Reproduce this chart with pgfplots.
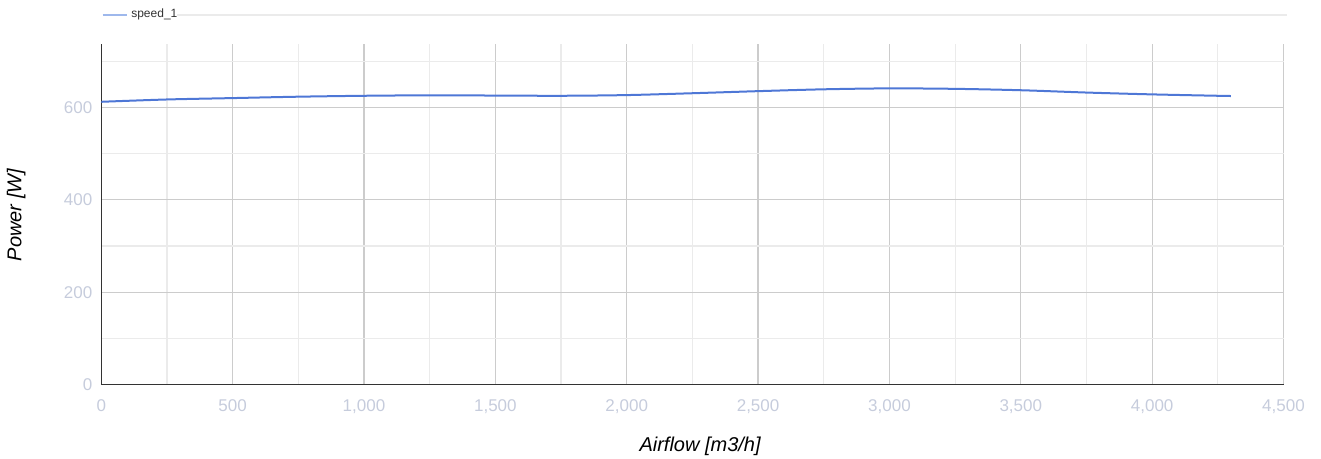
\documentclass[border=0pt]{standalone}
\usepackage{pgfplots}
\pgfplotsset{compat=1.18}
\usepackage{fontspec}
\setmainfont{Liberation Sans}

\definecolor{seriesblue}{RGB}{78,119,214}
\definecolor{legendblue}{RGB}{158,184,236}
\definecolor{ticklab}{RGB}{198,204,220}
\definecolor{titlegray}{RGB}{68,68,68}
\definecolor{majorgrid}{RGB}{204,204,204}
\definecolor{minorgrid}{RGB}{235,235,235}
\definecolor{axisdark}{RGB}{51,51,51}

\begin{document}
\begin{tikzpicture}
\begin{axis}[
    scale only axis,
    width=591pt, height=170.3pt,
    xmin=0, xmax=4500,
    ymin=0, ymax=737,
    axis x line*=bottom, axis y line*=left,
    axis line style={axisdark, line width=0.6pt},
    xtick={0,500,...,4500},
    ytick={0,200,400,600},
    minor xtick={250,750,...,4250},
    minor ytick={100,300,500,700},
    grid=both,
    major grid style={majorgrid, line width=0.6pt},
    minor grid style={minorgrid, line width=0.6pt},
    major tick length=0pt, minor tick length=0pt,
    /pgf/number format/assume math mode=true,
    /pgf/number format/1000 sep={,},
    ticklabel style={font=\fontsize{8.5}{10}\selectfont, text=ticklab},
    xticklabel style={yshift=-4pt},
    yticklabel style={xshift=-1pt},
    xlabel={\itshape Airflow [m3/h]},
    ylabel={\itshape Power [W]},
    label style={font=\fontsize{9}{11}\selectfont, text=titlegray},
    every axis x label/.style={at={(axis description cs:0.5065,-0.18)}, anchor=center},
    every axis y label/.style={at={(axis description cs:-0.072,0.498)}, rotate=90, anchor=center},
    legend style={at={(axis description cs:0,1.085)}, anchor=west, draw=none, fill=none,
        inner sep=0pt, font=\fontsize{6}{7}\selectfont, text=black!80,
        legend cell align=left},
    legend image code/.code={\draw[legendblue, line width=0.8pt] (0pt,0pt) -- (12pt,0pt);},
    clip=false,
]
\addplot[seriesblue, line width=1pt, smooth] coordinates {
    (0,612) (250,617) (500,620) (750,623) (1000,625) (1250,626) (1500,625.5)
    (1750,625) (2000,626.5) (2250,630.5) (2500,635) (2750,639) (3000,641)
    (3250,640) (3500,637) (3750,632) (4000,628) (4250,625) (4300,624.5)
};
\addlegendentry{speed\_1}
\draw[minorgrid, line width=0.75pt] (axis description cs:0.064,1.085) -- (axis description cs:1.003,1.085);
\end{axis}
\pgfresetboundingbox
\useasboundingbox ([shift={(-50.65pt,-37.15pt)}]current axis.south west) rectangle ([shift={(18.75pt,22pt)}]current axis.north east);
\end{tikzpicture}
\end{document}
